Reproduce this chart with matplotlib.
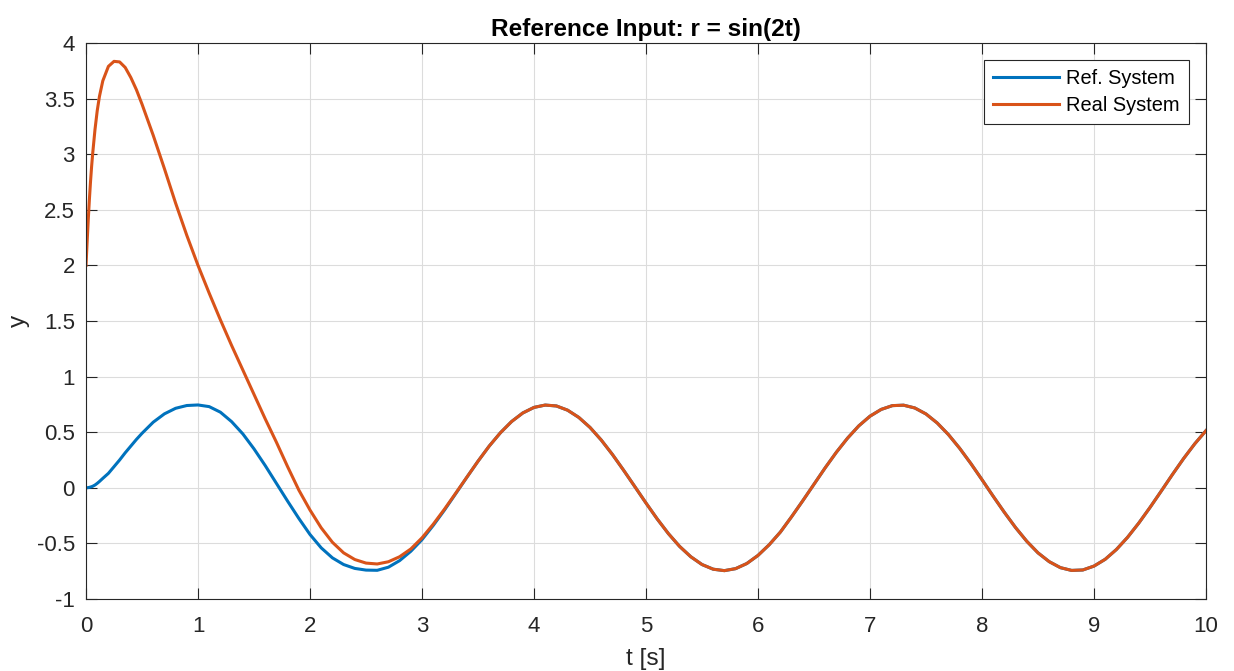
import matplotlib
matplotlib.use('Agg')
import matplotlib.pyplot as plt
from matplotlib.ticker import FuncFormatter

plt.rcParams['font.family'] = ['Liberation Sans', 'DejaVu Sans']
plt.rcParams['axes.unicode_minus'] = False

# time samples [s] (denser at the start where the real system jumps)
t = [0, 0.01, 0.02, 0.03, 0.04, 0.05, 0.06, 0.08, 0.1, 0.12, 0.15, 0.2, 0.25,
     0.3, 0.35, 0.4, 0.45, 0.5, 0.6, 0.7, 0.8, 0.9, 1.0,
     1.1, 1.2, 1.3, 1.4, 1.5, 1.6, 1.7, 1.8, 1.9, 2.0,
     2.1, 2.2, 2.3, 2.4, 2.5, 2.6, 2.7, 2.8, 2.9, 3.0,
     3.1, 3.2, 3.3, 3.4, 3.5, 3.6, 3.7, 3.8, 3.9, 4.0,
     4.1, 4.2, 4.3, 4.4, 4.5, 4.6, 4.7, 4.8, 4.9, 5.0,
     5.1, 5.2, 5.3, 5.4, 5.5, 5.6, 5.7, 5.8, 5.9, 6.0,
     6.1, 6.2, 6.3, 6.4, 6.5, 6.6, 6.7, 6.8, 6.9, 7.0,
     7.1, 7.2, 7.3, 7.4, 7.5, 7.6, 7.7, 7.8, 7.9, 8.0,
     8.1, 8.2, 8.3, 8.4, 8.5, 8.6, 8.7, 8.8, 8.9, 9.0,
     9.1, 9.2, 9.3, 9.4, 9.5, 9.6, 9.7, 9.8, 9.9, 10.0]

# reference system output
y_ref = [0.0, 0.0005, 0.002, 0.004, 0.007, 0.01, 0.014, 0.025, 0.04, 0.057, 0.085, 0.13, 0.19,
         0.25, 0.315, 0.375, 0.435, 0.49, 0.59, 0.665, 0.715, 0.74, 0.745,
         0.73, 0.68, 0.595, 0.485, 0.35, 0.20, 0.04, -0.12, -0.275, -0.42,
         -0.54, -0.63, -0.69, -0.725, -0.74, -0.742, -0.714, -0.655, -0.571, -0.466,
         -0.339, -0.201, -0.054, 0.094, 0.239, 0.375, 0.495, 0.596, 0.673, 0.723,
         0.744, 0.736, 0.698, 0.633, 0.543, 0.430, 0.300, 0.158, 0.011, -0.137,
         -0.280, -0.412, -0.527, -0.620, -0.690, -0.732, -0.745, -0.727, -0.681, -0.608,
         -0.512, -0.398, -0.260, -0.116, 0.032, 0.180, 0.320, 0.447, 0.557, 0.644,
         0.705, 0.739, 0.743, 0.718, 0.664, 0.583, 0.479, 0.356, 0.219, 0.073,
         -0.076, -0.221, -0.358, -0.481, -0.585, -0.664, -0.718, -0.743, -0.739, -0.704,
         -0.643, -0.555, -0.445, -0.317, -0.177, -0.030, 0.119, 0.263, 0.396, 0.514]

# real system output
y_real = [2.0, 2.21, 2.41, 2.59, 2.75, 2.89, 3.01, 3.22, 3.39, 3.52, 3.66, 3.79, 3.835,
          3.83, 3.78, 3.69, 3.58, 3.45, 3.17, 2.87, 2.56, 2.27, 2.0,
          1.75, 1.51, 1.28, 1.06, 0.84, 0.62, 0.41, 0.19, -0.02, -0.20,
          -0.36, -0.49, -0.585, -0.645, -0.677, -0.685, -0.665, -0.62, -0.55, -0.45,
          -0.328, -0.193, -0.05, 0.095, 0.239, 0.375, 0.495, 0.596, 0.673, 0.723,
          0.744, 0.736, 0.698, 0.633, 0.543, 0.430, 0.300, 0.158, 0.011, -0.137,
          -0.280, -0.412, -0.527, -0.620, -0.690, -0.732, -0.745, -0.727, -0.681, -0.608,
          -0.512, -0.398, -0.260, -0.116, 0.032, 0.180, 0.320, 0.447, 0.557, 0.644,
          0.705, 0.739, 0.743, 0.718, 0.664, 0.583, 0.479, 0.356, 0.219, 0.073,
          -0.076, -0.221, -0.358, -0.481, -0.585, -0.664, -0.718, -0.743, -0.739, -0.704,
          -0.643, -0.555, -0.445, -0.317, -0.177, -0.030, 0.119, 0.263, 0.396, 0.514]

x_ticks = [0, 1, 2, 3, 4, 5, 6, 7, 8, 9, 10]
y_ticks = [-1, -0.5, 0, 0.5, 1, 1.5, 2, 2.5, 3, 3.5, 4]

fig = plt.figure(figsize=(12.34, 6.71), dpi=100)
ax = fig.add_axes([0.0697, 0.1073, 0.9076, 0.8286])

ax.plot(t, y_ref, color='#0072BD', lw=2.2, label='Ref. System')
ax.plot(t, y_real, color='#D95319', lw=2.2, label='Real System')

ax.set_xlim(0, 10)
ax.set_ylim(-1, 4)
ax.set_xticks(x_ticks)
ax.set_yticks(y_ticks)
ax.xaxis.set_major_formatter(FuncFormatter(lambda v, p: '%g' % v))
ax.yaxis.set_major_formatter(FuncFormatter(lambda v, p: '%g' % v))

# matlab-ish look
ax.grid(True, color='#dcdcdc', lw=0.8)
ax.set_axisbelow(True)
for s in ax.spines.values():
    s.set_color('#262626')
    s.set_linewidth(0.8)
ax.tick_params(direction='in', length=8, width=0.8, color='#262626',
               labelsize=16, labelcolor='#262626', top=True, right=True)
ax.tick_params(axis='x', pad=12)
ax.tick_params(axis='y', pad=8)

ax.set_title('Reference Input: r = sin(2t)', fontsize=17.6, fontweight='bold', pad=5)
ax.set_xlabel('t [s]', fontsize=17.6, color='#262626', labelpad=8)
ax.set_ylabel('y', fontsize=17.6, color='#262626', labelpad=5)

leg = ax.legend(loc='upper right', fontsize=14.4, frameon=True, fancybox=False,
                handlelength=3.3, borderaxespad=0.85, borderpad=0.45,
                labelspacing=0.42, handletextpad=0.35)
leg.get_frame().set_edgecolor('#262626')
leg.get_frame().set_linewidth(0.8)
leg.get_frame().set_alpha(1)

fig.savefig('out.png', dpi=100)
